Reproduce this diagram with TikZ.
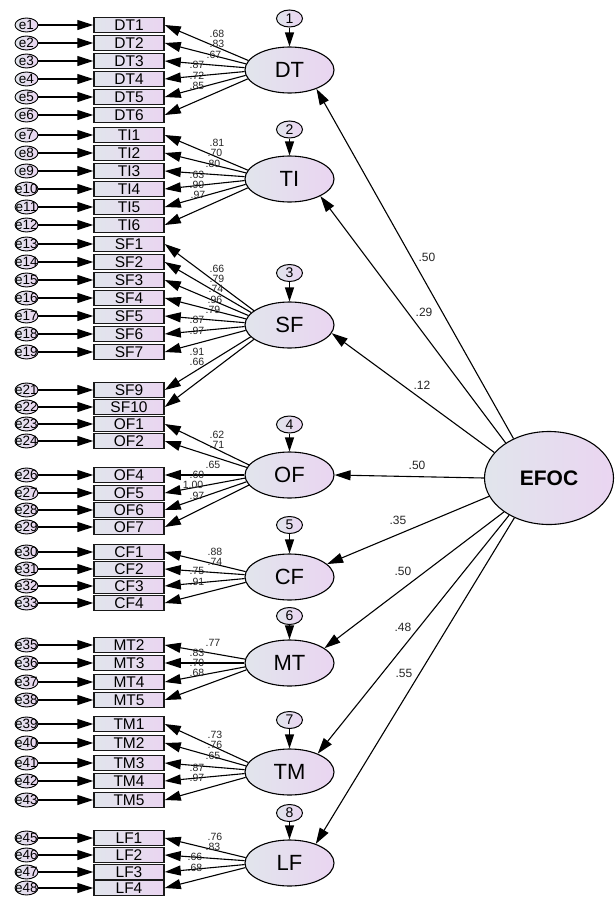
\documentclass[tikz,border=0pt]{standalone}
\usepackage{fontspec}
\setmainfont{Liberation Sans}
\usetikzlibrary{shapes.geometric,arrows.meta}
\definecolor{gL}{HTML}{E1E5EC}
\definecolor{gR}{HTML}{EAD5F1}
\tikzset{
 obs/.style={rectangle, draw=black!90, line width=1.5pt, minimum width=70pt, minimum height=15pt, inner sep=0pt, left color=gL, right color=gR, font=\fontsize{15.5}{15.5}\selectfont},
 err/.style={ellipse, draw=black, line width=0.9pt, minimum width=23pt, minimum height=14pt, inner sep=0pt, left color=gL, right color=gR},
 errtxt/.style={font=\fontsize{13.5}{13.5}\selectfont, inner sep=0pt},
 lat/.style={ellipse, draw, line width=1.1pt, minimum width=89pt, minimum height=46pt, inner sep=0pt, left color=gL, right color=gR, font=\fontsize{22}{22}\selectfont},
 num/.style={ellipse, draw, line width=1pt, minimum width=26pt, minimum height=17pt, inner sep=0pt, left color=gL, right color=gR, font=\fontsize{14}{14}\selectfont},
 arr/.style={line width=1.1pt, -{Triangle[length=16pt,width=10pt]}},
 arrs/.style={line width=1.1pt, -{Triangle[length=14pt,width=9pt]}},
 ld/.style={font=\fontsize{10.5}{10.5}\selectfont, inner sep=0pt, text=black!85},
 pl/.style={font=\fontsize{12}{12}\selectfont, inner sep=0pt, text=black!85},
}
\begin{document}
\begin{tikzpicture}[x=1pt,y=-1pt]
\useasboundingbox (0,0) rectangle (614,897);
% latent variables
\node[lat] (DT) at (289.5,70) {DT};
\node[lat] (TI) at (289.5,179) {TI};
\node[lat] (SF) at (289.5,325) {SF};
\node[lat] (OF) at (289.5,475) {OF};
\node[lat] (CF) at (289.5,577) {CF};
\node[lat] (MT) at (289.5,663) {MT};
\node[lat] (TM) at (289.5,772) {TM};
\node[lat] (LF) at (289.5,863) {LF};
\node[lat, minimum width=129pt, minimum height=93pt, font=\fontsize{21}{21}\selectfont\bfseries] (EFOC) at (549,478) {EFOC};
% disturbance circles
\foreach \k/\l/\y in {1/DT/18.5,2/TI/129.5,3/SF/273,4/OF/424.5,5/CF/525,6/MT/616,7/TM/720,8/LF/813}{
  \node[num] (n\k) at (289.5,\y) {\k};
  \draw[arrs] (n\k) -- (\l);
}
% indicators
\foreach \n/\y/\e/\l/\c in {
 DT1/25/e1/DT/70, DT2/43/e2/DT/70, DT3/61/e3/DT/70, DT4/79/e4/DT/70, DT5/97/e5/DT/70, DT6/115/e6/DT/70,
 TI1/135/e7/TI/179, TI2/153/e8/TI/179, TI3/171/e9/TI/179, TI4/189/e10/TI/179, TI5/207/e11/TI/179, TI6/225/e12/TI/179,
 SF1/244/e13/SF/325, SF2/262/e14/SF/325, SF3/280/e15/SF/325, SF4/298/e16/SF/325, SF5/316/e17/SF/325, SF6/334/e18/SF/325, SF7/352/e19/SF/325,
 SF9/390/e21/SF/325, SF10/407/e22/SF/325, OF1/424/e23/OF/475, OF2/441/e24/OF/475,
 OF4/475/e26/OF/475, OF5/493/e27/OF/475, OF6/510/e28/OF/475, OF7/527/e29/OF/475,
 CF1/552/e30/CF/577, CF2/569/e31/CF/577, CF3/586/e32/CF/577, CF4/603/e33/CF/577,
 MT2/645/e35/MT/663, MT3/663/e36/MT/663, MT4/682/e37/MT/663, MT5/700/e38/MT/663,
 TM1/724/e39/TM/772, TM2/743/e40/TM/772, TM3/763/e41/TM/772, TM4/781/e42/TM/772, TM5/800/e43/TM/772,
 LF1/838/e45/LF/863, LF2/855/e46/LF/863, LF3/872/e47/LF/863, LF4/888/e48/LF/863}{
  \node[obs] (\n) at (129,\y) {\n};
  \node[err, label={[errtxt]center:\e}] (\e) at (26.5,\y) {};
  \draw[arr] (\e) -- (\n);
  \pgfmathtruncatemacro\ang{180+0.27*(\y-\c)}
  \draw[arr] (\l.\ang) -- (\n.east);
}
% structural paths
\draw[arr] (EFOC.132) -- (DT.325);
\draw[arr] (EFOC.141) -- (TI.331);
\draw[arr] (EFOC.155) -- (SF.349);
\draw[arr] (EFOC.180) -- (OF.0);
\draw[arr] (EFOC.197) -- (CF.19);
\draw[arr] (EFOC.217) -- (MT.23);
\draw[arr] (EFOC.223) -- (TM.33);
\draw[arr] (EFOC.229) -- (LF.36);
\foreach \t/\x/\y [count=\i] in {.50/427/257, .29/424/312, .12/422/385, .50/417/465, .35/398/520, .50/403/571, .48/403/627, .55/404/673}{
  \node[pl] (pl\i) at (\x,\y) {\t};
}
% loadings
\foreach \t/\x/\y [count=\i] in {
 .68/217/34, .83/217/44, .67/214/55, .87/197/65, .72/197/75.5, .85/197/85.5,
 .81/217/143, .70/215/153, .80/213/164, .63/197/175, .90/197/185, .97/198/195,
 .66/217/269, .79/217/279, .74/216/289, .96/215/300, .79/213/310, .87/197/320, .97/197/331, .91/197/352, .66/197/362,
 .62/217/435, .71/217/445, .65/213/465, .60/197/474.5, 1.00/193/484.5, .97/197/496,
 .88/215/552, .74/215/562, .75/197/571, .91/197/582,
 .77/213/643, .83/197/653, .70/197/663, .68/197/673,
 .73/215/735, .76/215/745, .65/213/756, .87/197/768, .97/197/778,
 .76/215/837, .83/213/847, .66/195/857, .68/195/868}{
  \node[ld] (ld\i) at (\x,\y) {\t};
}
\end{tikzpicture}
\end{document}
